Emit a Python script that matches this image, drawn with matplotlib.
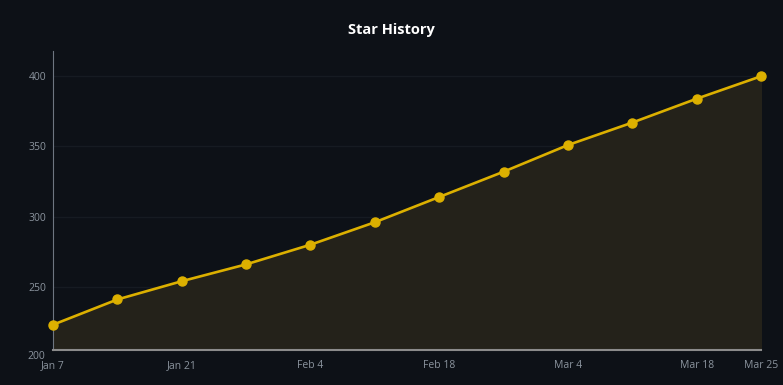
import matplotlib
matplotlib.use("Agg")
import matplotlib.pyplot as plt
import pandas as pd

dates = ["2025-01-07", "2025-01-14", "2025-01-21", "2025-01-28", "2025-02-04", "2025-02-11",
         "2025-02-18", "2025-02-25", "2025-03-04", "2025-03-11", "2025-03-18", "2025-03-25"]
stars = [223, 241, 254, 266, 280, 296, 314, 332, 351, 367, 384, 400]
tick_dates = ["2025-01-07", "2025-01-21", "2025-02-04", "2025-02-18", "2025-03-04", "2025-03-18", "2025-03-25"]
tick_labels = ["Jan 7", "Jan 21", "Feb 4", "Feb 18", "Mar 4", "Mar 18", "Mar 25"]
y_ticks = [250, 300, 350, 400]

plt.rcParams['font.family'] = ['Open Sans', 'DejaVu Sans']

bg = "#0d1117"
gold = "#dcb000"
x = pd.to_datetime(dates)

fig = plt.figure(figsize=(7.83, 3.85), dpi=100, facecolor=bg)
ax = fig.add_axes([53 / 783, 1 - 350 / 385, 708 / 783, 299 / 385], facecolor=bg)

ymin, ymax = 205, 418
ax.fill_between(x, stars, ymin, color="#24221a", zorder=1)
ax.plot(x, stars, color=gold, linewidth=1.9, marker="o", markersize=6.5, zorder=3, clip_on=False)

ax.set_xlim(x[0], x[-1])
ax.set_ylim(ymin, ymax)
ax.set_xticks(pd.to_datetime(tick_dates))
ax.set_xticklabels(tick_labels)
ax.set_yticks(y_ticks)
ax.tick_params(colors="#8b949e", labelsize=7.5, length=0, pad=5)
ax.tick_params(axis="x", pad=7.5)
ax.grid(axis="y", color="#161b22", linewidth=1)
ax.set_axisbelow(True)

for s in ["top", "right"]:
    ax.spines[s].set_visible(False)
ax.spines["left"].set_color("#6e7681")
ax.spines["bottom"].set_color("#8b8b8b")
ax.spines["bottom"].set_linewidth(1.5)

# the 200 label sits just under the axis start
ax.text(-0.011, 200.7, "200", transform=ax.get_yaxis_transform(), ha="right", va="center",
        color="#8b949e", fontsize=7.5, clip_on=False)

fig.text(0.5, 1 - 30 / 385, "Star History", ha="center", va="center", color="white",
         fontsize=10.5, fontweight="bold")

fig.savefig("out.png", dpi=100, facecolor=bg)
